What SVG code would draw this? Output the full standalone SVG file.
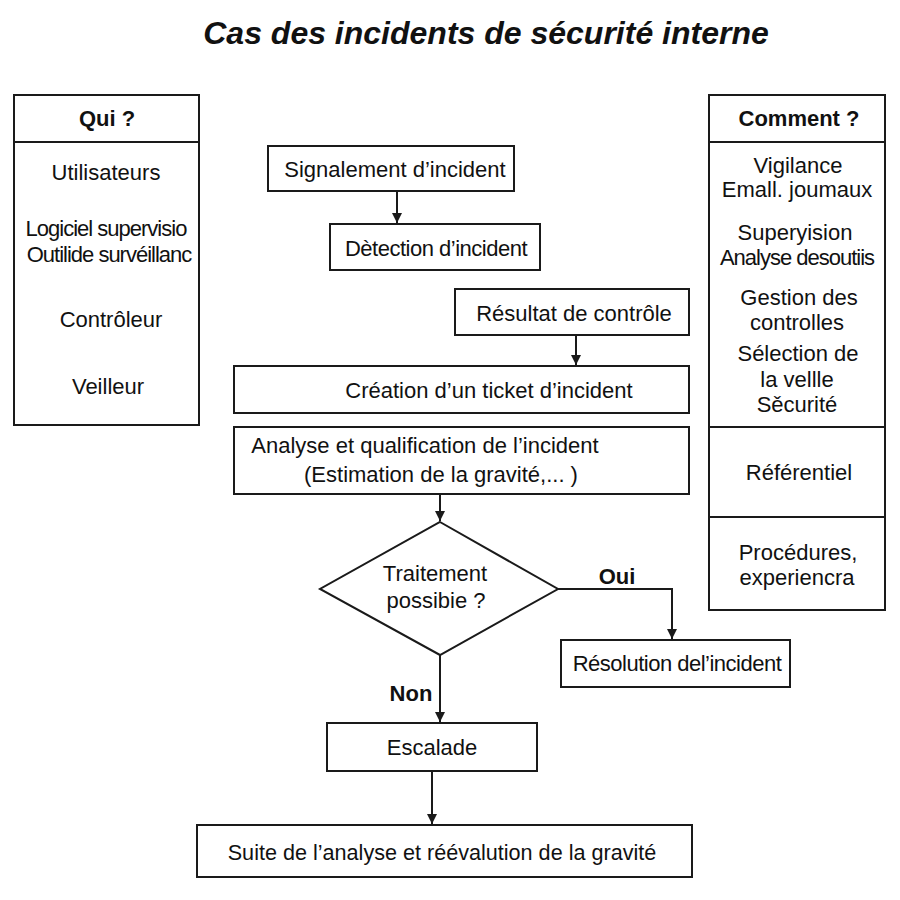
<svg xmlns="http://www.w3.org/2000/svg" width="900" height="900" viewBox="0 0 900 900">
<style>
.box{fill:#fff;stroke:#1a1a1a;stroke-width:2}
.t{font-family:"Liberation Sans",Arial,sans-serif;font-size:22px;fill:#111;text-anchor:middle}
.n{letter-spacing:-1px}
.s{letter-spacing:-0.5px}
.b{font-weight:bold}
.c{fill:none;stroke:#1a1a1a;stroke-width:2}
</style>
<defs>
<marker id="arr" markerWidth="12" markerHeight="12" refX="10" refY="5" orient="auto" markerUnits="userSpaceOnUse">
<path d="M0,0 L10,5 L0,10 Z" fill="#1a1a1a"/>
</marker>
</defs>
<rect width="900" height="900" fill="#fff"/>
<text x="486" y="44" class="t b" style="font-size:32px;font-style:italic">Cas des incidents de sécurité interne</text>

<g id="qui">
<rect class="box" x="14" y="95" width="185" height="330"/>
<line class="c" x1="14" y1="142" x2="199" y2="142"/>
<text class="t b" x="107" y="126">Qui ?</text>
<text class="t" x="106" y="180">Utilisateurs</text>
<text class="t n" x="106" y="236">Logiciel supervisio</text>
<text class="t n" x="109" y="262">Outilide survéillanc</text>
<text class="t" x="111" y="327">Contrôleur</text>
<text class="t" x="108" y="394">Veilleur</text>
</g>

<g id="comment">
<rect class="box" x="709" y="95" width="176" height="515"/>
<line class="c" x1="709" y1="142" x2="885" y2="142"/>
<line class="c" x1="709" y1="427" x2="885" y2="427"/>
<line class="c" x1="709" y1="517" x2="885" y2="517"/>
<text class="t b" x="799" y="126">Comment ?</text>
<text class="t" x="798" y="173">Vigilance</text>
<text class="t" x="797" y="197">Emall. joumaux</text>
<text class="t" x="795" y="240">Superyision</text>
<text class="t n" x="797" y="265">Analyse desoutiis</text>
<text class="t" x="799" y="305">Gestion des</text>
<text class="t" x="797" y="330">controlles</text>
<text class="t" x="798" y="361">Sélection de</text>
<text class="t" x="797" y="387">la vellle</text>
<text class="t" x="797" y="412">Sěcurité</text>
<text class="t" x="799" y="480">Référentiel</text>
<text class="t" x="798" y="560">Procédures,</text>
<text class="t" x="797" y="585">experiencra</text>
</g>

<g id="signalement">
<rect class="box" x="268" y="146" width="246" height="45"/>
<text class="t" x="395" y="177">Signalement d’incident</text>
</g>
<g id="detection">
<rect class="box" x="330" y="224" width="210" height="46"/>
<text class="t s" x="436" y="256">Dètection d’incident</text>
</g>
<g id="resultat">
<rect class="box" x="455" y="289" width="234" height="46"/>
<text class="t" x="574" y="321">Résultat de contrôle</text>
</g>
<g id="creation">
<rect class="box" x="234" y="366" width="455" height="47"/>
<text class="t" x="489" y="398">Création d’un ticket d’incident</text>
</g>
<g id="analyse">
<rect class="box" x="234" y="427" width="455" height="67"/>
<text class="t" x="425" y="453">Analyse et qualification de l’incident</text>
<text class="t" x="441" y="482">(Estimation de la gravité,... )</text>
</g>
<g id="decision">
<polygon class="box" points="440,522 558,589 440,655 320,589"/>
<text class="t" x="435" y="581">Traitement</text>
<text class="t" x="436" y="608">possibie ?</text>
</g>
<g id="resolution">
<rect class="box" x="561" y="640" width="229" height="47"/>
<text class="t s" x="677" y="671">Résolution del’incident</text>
</g>
<g id="escalade">
<rect class="box" x="327" y="723" width="210" height="48"/>
<text class="t" x="432" y="755">Escalade</text>
</g>
<g id="suite">
<rect class="box" x="197" y="825" width="495" height="52"/>
<text class="t" x="442" y="860" style="font-size:21.6px">Suite de l’analyse et réévalution de la gravité</text>
</g>

<g id="connectors">
<line class="c" x1="397" y1="191" x2="397" y2="223" marker-end="url(#arr)"/>
<line class="c" x1="576" y1="335" x2="576" y2="365" marker-end="url(#arr)"/>
<line class="c" x1="440" y1="494" x2="440" y2="521" marker-end="url(#arr)"/>
<polyline class="c" points="558,589 672,589 672,639" marker-end="url(#arr)"/>
<line class="c" x1="440" y1="655" x2="440" y2="722" marker-end="url(#arr)"/>
<line class="c" x1="432" y1="771" x2="432" y2="824" marker-end="url(#arr)"/>
<text class="t b" x="617" y="584">Oui</text>
<text class="t b" x="411" y="701">Non</text>
</g>
</svg>
